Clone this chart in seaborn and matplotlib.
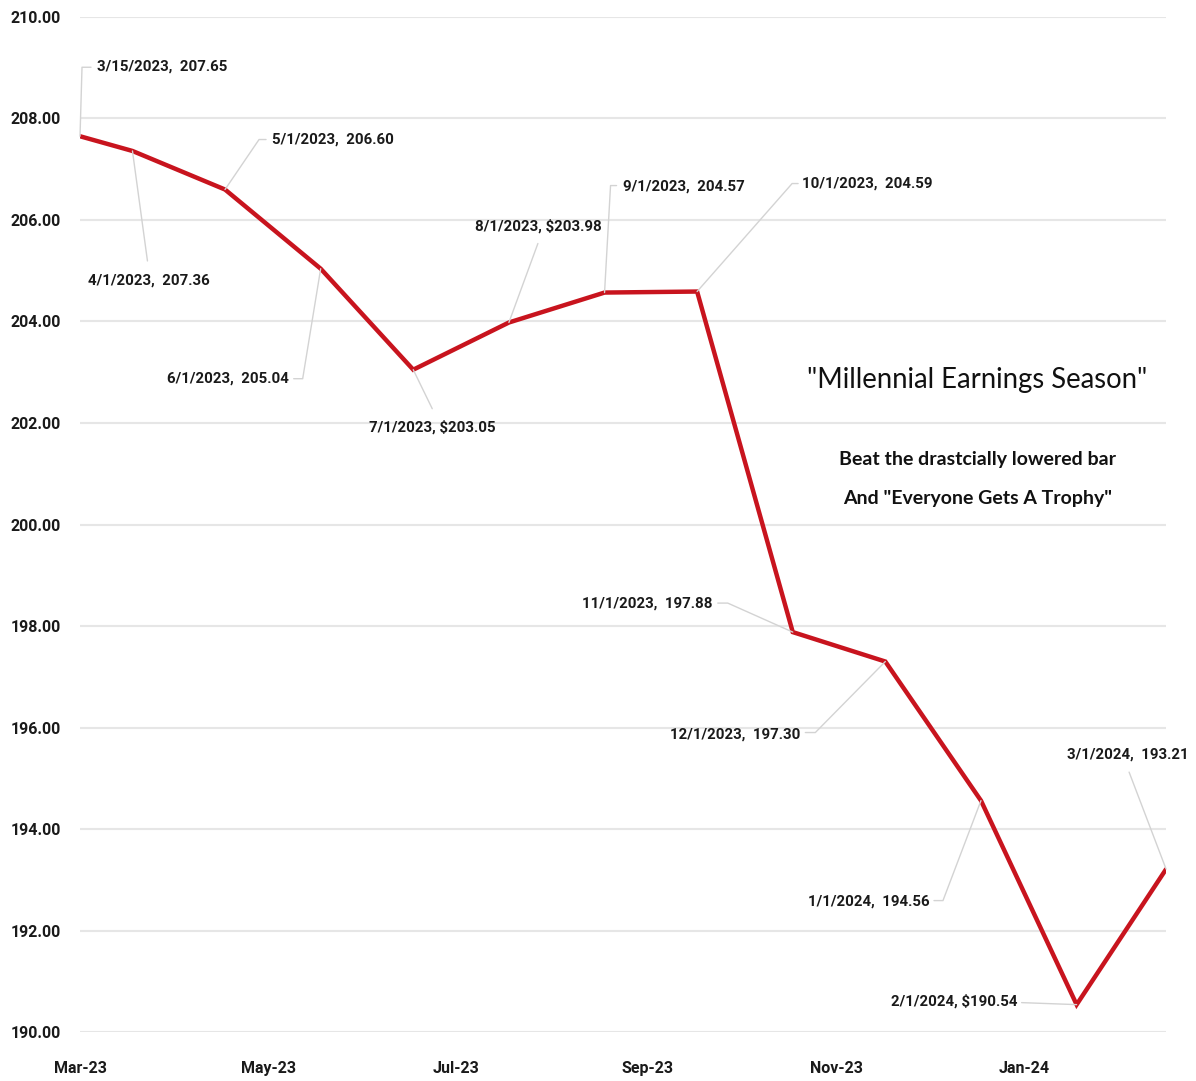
import pandas as pd
import matplotlib
matplotlib.use("Agg")
import matplotlib.pyplot as plt
import matplotlib.dates as mdates
from matplotlib.lines import Line2D
from matplotlib.transforms import IdentityTransform
import seaborn as sns

# data
dates = ["2023-03-15", "2023-04-01", "2023-05-01", "2023-06-01", "2023-07-01",
         "2023-08-01", "2023-09-01", "2023-10-01", "2023-11-01", "2023-12-01",
         "2024-01-01", "2024-02-01", "2024-03-01"]
values = [207.65, 207.36, 206.60, 205.04, 203.05, 203.98, 204.57, 204.59,
          197.88, 197.30, 194.56, 190.54, 193.21]
labels = ["3/15/2023,  207.65", "4/1/2023,  207.36", "5/1/2023,  206.60",
          "6/1/2023,  205.04", "7/1/2023, $203.05", "8/1/2023, $203.98",
          "9/1/2023,  204.57", "10/1/2023,  204.59", "11/1/2023,  197.88",
          "12/1/2023,  197.30", "1/1/2024,  194.56", "2/1/2024, $190.54",
          "3/1/2024,  193.21"]
tick_dates = ["2023-03-15", "2023-05-15", "2023-07-15", "2023-09-15",
              "2023-11-15", "2024-01-15"]
tick_labels = ["Mar-23", "May-23", "Jul-23", "Sep-23", "Nov-23", "Jan-24"]
title_text = '"Millennial Earnings Season"'
subtitle_lines = ['Beat the drastcially lowered bar', 'And "Everyone Gets A Trophy"']

# label placement: pixel offset from the point (y up) and alignment
label_pos = [(17, 70, "left"), (16, -130, "center"), (47, 50, "left"),
             (-32, -110, "right"), (19, -58, "center"), (29, 96, "center"),
             (18, 106, "left"), (105, 108, "left"), (-80, 29, "right"),
             (-85, -73, "right"), (-51, -101, "right"), (-59, 3, "right"),
             (-38, 115, "center")]
# leader line paths, pixel offsets from the point
leaders = [[(0, 0), (2, 69), (11, 69)], [(0, 0), (15, -110)],
           [(0, 0), (34, 50), (41, 50)], [(0, 0), (-18, -110), (-27, -110)],
           [(0, 0), (19, -39)], [(0, 0), (29, 79)],
           [(0, 0), (6, 107), (12, 107)], [(0, 0), (95, 108), (101, 108)],
           [(0, 0), (-65, 29), (-75, 29)], [(0, 0), (-70, -71), (-80, -71)],
           [(0, 0), (-38, -100), (-47, -100)], [(0, 0), (-55, 2)],
           [(0, 0), (-37, 97)]]

sns.set_theme(style="white")
plt.rcParams['font.family'] = ['Roboto', 'DejaVu Sans']

df = pd.DataFrame({"date": pd.to_datetime(dates), "value": values})

fig = plt.figure(figsize=(11.96, 10.81), dpi=100)
ax = fig.add_axes([0.0669, 0.0453, 0.9081, 0.939])

sns.lineplot(data=df, x="date", y="value", color="#c8141e", linewidth=3.2,
             ax=ax, solid_joinstyle="miter", zorder=3)

ax.set_xlim(df["date"].min(), df["date"].max())
ax.set_ylim(190, 210)
ax.set_yticks([190 + 2 * i for i in range(11)])
ax.set_yticklabels([f"{190 + 2 * i:.2f}" for i in range(11)])
ax.set_xticks(pd.to_datetime(tick_dates))
ax.set_xticklabels(tick_labels)
ax.grid(axis="y", color="#e6e6e6", linewidth=1.5)
ax.set_axisbelow(True)
for s in ax.spines.values():
    s.set_visible(False)
ax.tick_params(axis="both", length=0, labelsize=11.5, colors="#1a1a1a")
ax.tick_params(axis="y", pad=14)
ax.tick_params(axis="x", pad=21)
for t in ax.get_xticklabels() + ax.get_yticklabels():
    t.set_fontweight("bold")
ax.set_xlabel("")
ax.set_ylabel("")

for d, v, lab, (dx, dy, ha), path in zip(df["date"], values, labels,
                                         label_pos, leaders):
    px, py = ax.transData.transform((mdates.date2num(d), v))
    fig.add_artist(Line2D([px + p[0] for p in path], [py + p[1] for p in path],
                          transform=IdentityTransform(), color="#d3d3d3",
                          lw=1, zorder=2))
    ax.annotate(lab, xy=(d, v), xytext=(dx, dy), textcoords="offset pixels",
                ha=ha, va="center", fontsize=10.8, fontweight="bold",
                color="#1a1a1a")

ax.text(0.826, 0.642, title_text, transform=ax.transAxes,
        ha="center", va="center", fontsize=19.8, family=["Lato", "DejaVu Sans"],
        color="#111111")
for line, yy in zip(subtitle_lines, [0.5645, 0.526]):
    ax.text(0.826, yy, line, transform=ax.transAxes, ha="center", va="center",
            fontsize=14, fontweight="bold", family=["Lato", "DejaVu Sans"],
            color="#111111")

fig.savefig("out.png", dpi=100)
